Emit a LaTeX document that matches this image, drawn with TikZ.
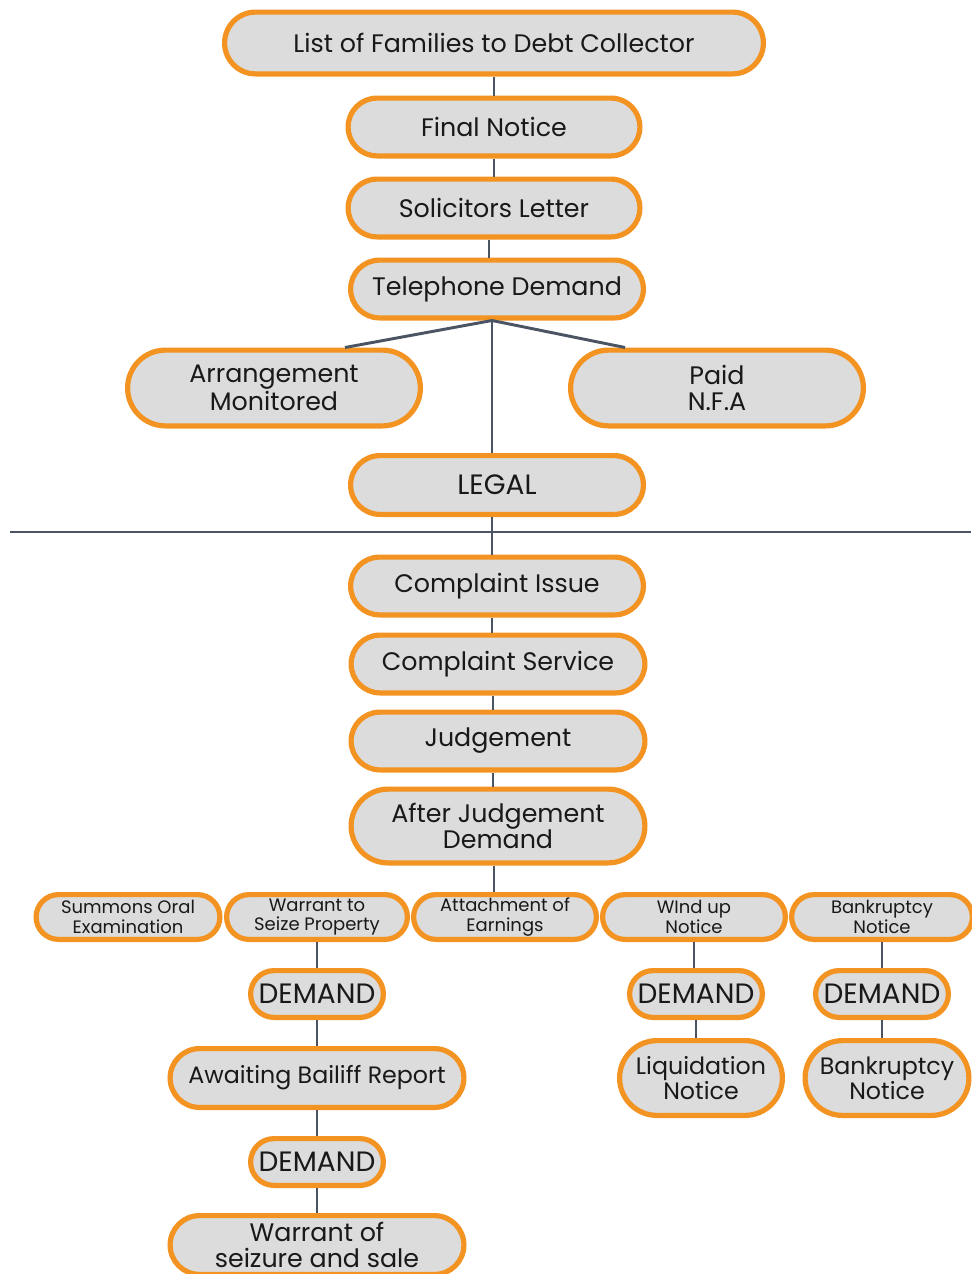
\documentclass[tikz,border=0pt]{standalone}
\usepackage{fontspec}
\setmainfont{Poppins}
\usetikzlibrary{shapes.misc}
\definecolor{pillfill}{HTML}{DCDCDC}
\definecolor{pillborder}{HTML}{F39322}
\definecolor{linec}{HTML}{4A5462}
\begin{document}
\begin{tikzpicture}[x=0.75pt,y=-0.75pt,
  pill/.style n args={2}{rounded rectangle, draw=pillborder, line width=3.9pt, fill=pillfill,
    minimum width=#1*0.75pt-3.9pt, minimum height=#2*0.75pt-3.9pt, inner sep=0pt,
    align=center, font=\fontsize{19}{19.5}\selectfont, text=black!90},
  small/.style={font=\fontsize{13.5}{14.5}\selectfont},
  caps/.style={font=\fontsize{21}{22}\selectfont},
  mid/.style={font=\fontsize{17.8}{19}\selectfont},
  conn/.style={draw=linec, line width=2.2pt}]
\useasboundingbox (0,0) rectangle (971,1274);
\fill[white] (0,0) rectangle (971,1274);
% top part
\node[pill={544}{67}] (list) at (494,43) {List of Families to Debt Collector};
\node[pill={297}{63}] (final) at (494,127) {Final Notice};
\node[pill={297}{63}] (sol) at (494,208) {Solicitors Letter};
\node[pill={298}{63}] (tel) at (497,289) {Telephone Demand};
\node[pill={298}{81}] (arr) at (274,388) {Arrangement\\Monitored};
\node[pill={298}{81}] (paid) at (717,388) {Paid\\N.F.A};
\node[pill={298}{64},caps] (legal) at (497,485) {LEGAL};
% separator
\coordinate (sepL) at (10,532);
\coordinate (sepR) at (971,532);
% legal part
\node[pill={298}{63}] (ci) at (497,586) {Complaint Issue};
\node[pill={299}{63}] (cs) at (498,664) {Complaint Service};
\node[pill={299}{63}] (jud) at (498,741) {Judgement};
\node[pill={299}{79}] (ajd) at (498,826) {After Judgement\\Demand};
% row
\node[pill={189}{50},small] (sum) at (128,917) {Summons Oral\\Examination};
\node[pill={186}{50},small] (wsp) at (317,917) {Warrant to\\Seize Property};
\node[pill={188}{50},small] (att) at (505,917) {Attachment of\\Earnings};
\node[pill={188}{50},small] (wind) at (694,917) {WInd up\\Notice};
\node[pill={186}{50},small] (bank) at (882,917) {Bankruptcy\\Notice};
% left column
\node[pill={138}{52},caps] (d1) at (317,994) {DEMAND};
\node[pill={299}{64},mid] (abr) at (317,1078) {Awaiting Bailiff Report};
\node[pill={138}{52},caps] (d2) at (317,1162) {DEMAND};
\node[pill={299}{64}] (wss) at (317,1245) {Warrant of\\seizure and sale};
% right columns
\node[pill={138}{52},caps] (d3) at (696,994) {DEMAND};
\node[pill={168}{80},mid] (liq) at (701,1078) {Liquidation\\Notice};
\node[pill={138}{52},caps] (d4) at (882,994) {DEMAND};
\node[pill={169}{80},mid] (bn) at (887,1078) {Bankruptcy\\Notice};
% connectors
\draw[conn] (list.south) -- (final.north);
\draw[conn] (final.south) -- (sol.north);
\draw[conn] ([xshift=-3.75pt]sol.south) -- ([xshift=-3.75pt]sol.south |- tel.north);
\draw[conn] ([xshift=-3.75pt]tel.south) -- ([xshift=71*0.75pt]arr.north);
\draw[conn] ([xshift=-3.75pt]tel.south) -- ([xshift=-92*0.75pt]paid.north);
\draw[conn] ([xshift=-3.75pt]tel.south) -- ([xshift=-3.75pt]legal.north);
\draw[conn] ([xshift=-3.75pt]legal.south) -- ([xshift=-3.75pt]ci.north);
\draw[conn] (sepL) -- (sepR);
\draw[conn] ([xshift=-3.75pt]ci.south) -- ([xshift=-3.75pt]ci.south |- cs.north);
\draw[conn] ([xshift=-3.75pt]cs.south) -- ([xshift=-3.75pt]jud.north);
\draw[conn] ([xshift=-3.75pt]jud.south) -- ([xshift=-3.75pt]ajd.north);
\draw[conn] ([xshift=-3pt]ajd.south) -- ([xshift=-3pt]ajd.south |- att.north);
\draw[conn] (wsp.south) -- (d1.north);
\draw[conn] (d1.south) -- (abr.north);
\draw[conn] (abr.south) -- (d2.north);
\draw[conn] (d2.south) -- (wss.north);
\draw[conn] (wind.south) -- (wind.south |- d3.north);
\draw[conn] (d3.south) -- (d3.south |- liq.north);
\draw[conn] (bank.south) -- (d4.north);
\draw[conn] (d4.south) -- (d4.south |- bn.north);
\end{tikzpicture}
\end{document}
